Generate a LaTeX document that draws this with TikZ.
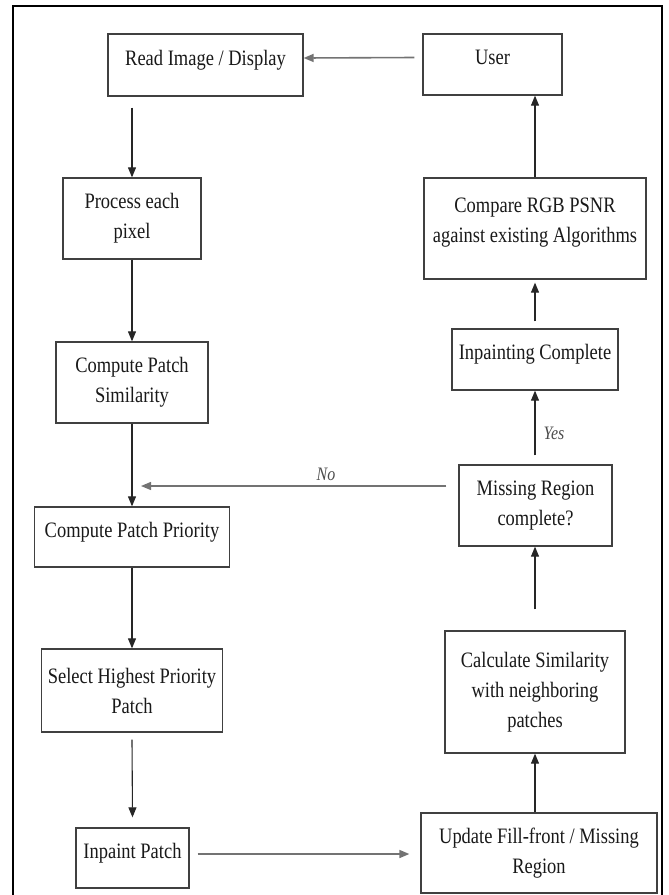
\documentclass[tikz,border=0pt]{standalone}
\usepackage{fontspec}
\setmainfont[FakeStretch=0.84]{Liberation Serif}
\usetikzlibrary{arrows.meta,calc}
\begin{document}
\begin{tikzpicture}[x=1pt,y=-1pt,
  box/.style={draw=black!75, line width=1.3pt, fill=white, text=black!90, align=center,
    inner sep=2pt, font=\fontsize{22}{30}\selectfont},
  one/.style={text depth=15pt},
  arr/.style={draw=black!85, line width=1.1pt, -{Triangle[length=10pt,width=8pt]}},
  harr/.style={draw=black!55, line width=1.6pt, -{Triangle[length=10pt,width=8pt]}},
  lab/.style={font=\fontsize{19}{22}\selectfont\itshape, text=black!70, inner sep=0pt}]
\useasboundingbox (0,0) rectangle (669,895);
\draw[black, line width=1.8pt] (13,905) -- (13,6) -- (662,6) -- (662,905);

% left column
\node[box,one,minimum width=195pt,minimum height=62pt] (read) at (205.5,65) {Read Image / Display};
\node[box,minimum width=138pt,minimum height=81pt] (process) at (132,218.5) {Process each\\pixel};
\node[box,minimum width=152pt,minimum height=81pt] (sim) at (132,382.5) {Compute Patch\\Similarity};
\node[box,one,minimum width=195pt,minimum height=60pt] (prio) at (132,537) {Compute Patch Priority};
\node[box,minimum width=181pt,minimum height=83pt] (sel) at (132,690.5) {Select Highest Priority\\Patch};
\node[box,one,minimum width=113pt,minimum height=60pt] (inp) at (132.5,858) {Inpaint Patch};

% right column
\node[box,one,minimum width=139pt,minimum height=61pt] (user) at (492.5,64.5) {User};
\node[box,minimum width=222pt,minimum height=101pt] (cmp) at (535,228.5) {Compare RGB PSNR\\against existing Algorithms\\[-14pt]~};
\node[box,one,minimum width=166pt,minimum height=61pt] (comp) at (535,359.5) {Inpainting Complete};
\node[box,minimum width=153pt,minimum height=81pt] (miss) at (535.5,505.5) {Missing Region\\complete?};
\node[box,minimum width=180pt,minimum height=122pt] (calc) at (535,692) {Calculate Similarity\\with neighboring\\patches};
\node[box,minimum width=236pt,minimum height=80pt] (upd) at (539,853) {Update Fill-front / Missing\\Region};

% connectors
\draw[harr] ($(user.west)+(-8,-7)$) -- ($(read.east)+(0,-7)$);
\draw[arr] ($(read.south -| process.north)+(0,11)$) -- (process.north);
\draw[arr] (process.south) -- (sim.north);
\draw[arr] (sim.south) -- (prio.north);
\draw[arr] (prio.south) -- (sel.north);
\draw[arr] ($(sel.south)+(0,7)$) -- ($(inp.north)+(0,-10)$);
\draw[harr] ($(inp.east)+(8,-4)$) -- ($(upd.west |- inp.east)+(-11,-4)$);
\draw[arr] (upd.north -| calc.south) -- (calc.south);
\draw[arr] ($(calc.north)+(0,-21)$) -- (miss.south -| calc.north);
\draw[arr] ($(miss.north -| comp.south)+(0,-9)$) -- (comp.south);
\draw[arr] ($(comp.north)+(0,-7)$) -- ($(cmp.south)+(0,3)$);
\draw[arr] (cmp.north) -- (cmp.north |- user.south);
\coordinate (noend) at (141,486);
\draw[harr, line width=1.3pt] ($(miss.west |- noend)+(-12,0)$) -- (noend);

% labels
\node[lab] (nolab) at (326,474) {No};
\node[lab] (yeslab) at (554,433) {Yes};
\end{tikzpicture}
\end{document}
